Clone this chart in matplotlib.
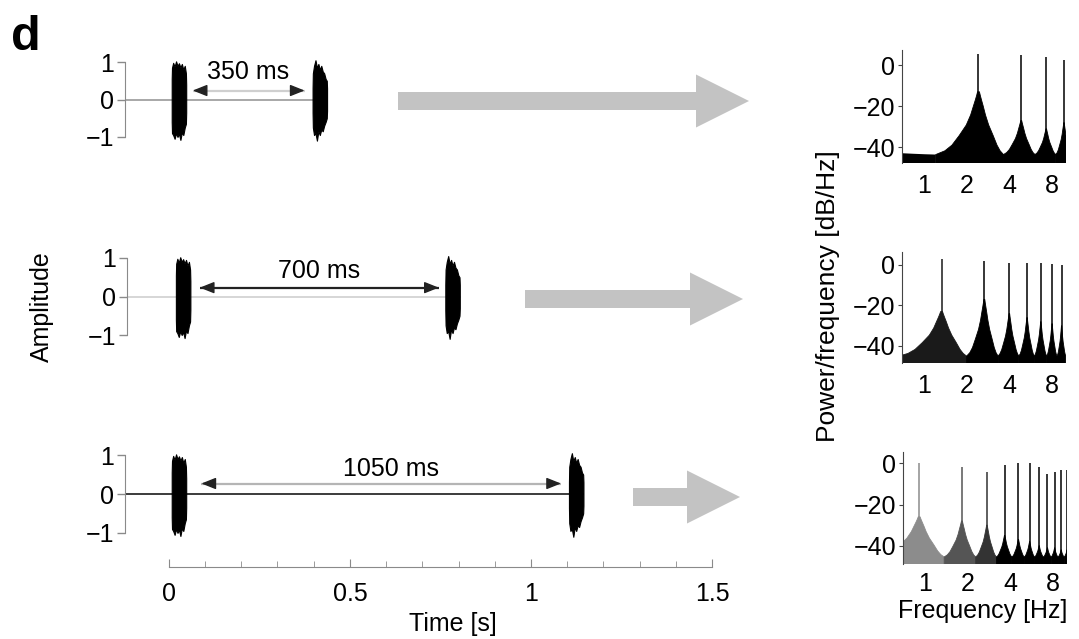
import numpy as np
import matplotlib
matplotlib.use("Agg")
import matplotlib.pyplot as plt
from matplotlib.patches import Polygon

plt.rcParams['font.family'] = ['Liberation Sans', 'DejaVu Sans']
plt.rcParams['font.size'] = 18

# ---------------- data ----------------
gap_labels = ["350 ms", "700 ms", "1050 ms"]
burst_onsets = [[0.008, 0.397], [0.014, 0.758], [0.008, 1.105]]
burst_dur = 0.040
burst_phase = [0.0, 0.02, 0.1, 0.2, 0.3, 0.4, 0.5, 0.6, 0.7, 0.8, 0.9, 0.98, 1.0]
env_upper_a = [0.55, 0.85, 0.98, 0.88, 1.02, 0.90, 0.97, 0.86, 0.95, 0.80, 0.90, 0.70, 0.40]
env_lower_a = [-0.60, -0.90, -0.95, -1.05, -0.90, -1.00, -0.92, -1.08, -0.88, -0.95, -0.75, -0.65, -0.35]
env_upper_b = [0.30, 0.70, 0.90, 1.05, 0.85, 0.95, 0.80, 0.90, 0.75, 0.70, 0.55, 0.50, 0.30]
env_lower_b = [-0.35, -0.75, -0.95, -0.90, -1.10, -0.85, -0.95, -0.80, -0.85, -0.70, -0.60, -0.50, -0.30]
gap_arrow_span = [(0.066, 0.375), (0.080, 0.740), (0.090, 1.083)]
gap_arrow_amp = [0.24, 0.23, 0.27]
gap_label_pos = [(0.218, 0.73), (0.410, 0.66), (0.614, 0.65)]
baseline_colors = ['#9a9a9a', '#cfcfcf', '#1a1a1a']
shaft_colors = ['#cfcfcf', '#222222', '#b5b5b5']

time_ticks = [0, 0.5, 1, 1.5]
time_ticklabels = ['0', '0.5', '1', '1.5']
amp_ticks = [-1, 0, 1]
amp_ticklabels = ['\u22121', '0', '1']

freq_ticks = [1, 2, 4, 8]
freq_ticklabels = ['1', '2', '4', '8']
db_ticks = [-40, -20, 0]
db_ticklabels = ['\u221240', '\u221220', '0']

spec_peaks = [
    [2.42, 4.84, 7.26, 9.68],
    [1.33, 2.66, 3.99, 5.32, 6.65, 7.98, 9.31],
    [0.91, 1.82, 2.73, 3.64, 4.55, 5.46, 6.37, 7.28, 8.19, 9.10, 10.01],
]
spec_peak_db = [
    [5.3, 4.9, 3.7, 2.4],
    [3.0, 2.0, 1.0, 1.0, 1.0, 0.5, 0.0],
    [0.0, -2.0, -4.0, -1.0, 0.0, 0.0, -2.0, -5.0, -4.0, -3.0, -3.0],
]
spec_base_db = [
    [-13, -27, -31, -28],
    [-23, -17, -24, -26, -28, -29, -30],
    [-26, -28, -30, -35, -37, -38, -40, -41, -41, -42, -42],
]
spec_dc_db = [-41, -43, -44]
spec_floor_db = [-43.5, -45.0, -45.5]
spec_colors = [
    ['black'] * 4,
    ['#1a1a1a'] + ['black'] * 6,
    ['#8c8c8c', '#555555', '#333333'] + ['black'] * 8,
]
# cusp profile: offset (fraction of harmonic spacing) -> relative rise
cusp_x = [0.5, 0.42, 0.35, 0.27, 0.18, 0.12, 0.08, 0.05, 0.03, 0.015]
cusp_v = [0.0, 0.06, 0.15, 0.30, 0.47, 0.63, 0.77, 0.87, 0.94, 1.0]

# ---------------- figure ----------------
W, H = 1079, 639
fig = plt.figure(figsize=(W / 100, H / 100), dpi=100)


def px_axes(x0, y0, x1, y1, **kw):
    return fig.add_axes([x0 / W, 1 - y1 / H, (x1 - x0) / W, (y1 - y0) / H], **kw)


# overlay for block arrows and figure labels
ov = px_axes(0, 0, W, H)
ov.set_xlim(0, W)
ov.set_ylim(H, 0)
ov.axis('off')
ov.patch.set_alpha(0)
block_arrows = [(398, 749, 101), (525, 743, 299), (633, 740, 497)]
for x0, x1, yc in block_arrows:
    hl, hw, sw = 53, 26.5, 9
    pts = [(x0, yc - sw), (x1 - hl, yc - sw), (x1 - hl, yc - hw), (x1, yc),
           (x1 - hl, yc + hw), (x1 - hl, yc + sw), (x0, yc + sw)]
    ov.add_patch(Polygon(pts, closed=True, facecolor='#c3c3c3', edgecolor='none'))

ov.text(11, 50, 'd', fontsize=35, fontweight='bold', ha='left', va='baseline')
ov.text(42, 307, 'Amplitude', rotation=90, ha='center', va='center')
ov.text(453, 624, 'Time [s]', ha='center', va='center')
ov.text(828, 296, 'Power/frequency [dB/Hz]', rotation=90, ha='center', va='center',
        fontsize=19)
ov.text(983, 611, 'Frequency [Hz]', ha='center', va='center')

# ---------------- time-domain panels ----------------
left_boxes = [(125, 49, 712, 150), (127, 244.5, 714, 348.5), (125, 441.5, 712, 546.5)]
t_left = -0.121
gray = '#8a8a8a'
for i, (x0, y0, x1, y1) in enumerate(left_boxes):
    ax = px_axes(x0, y0, x1, y1)
    ax.patch.set_alpha(0)
    ax.set_xlim(t_left, 1.5)
    ax.set_ylim(-1.35, 1.35)
    on = burst_onsets[i]
    t_end = on[-1] + burst_dur
    ax.plot([t_left, t_end], [0, 0], color=baseline_colors[i], lw=1.2, zorder=1)
    for j, o in enumerate(on):
        t = o + np.array(burst_phase) * burst_dur
        up = env_upper_a if j == 0 else env_upper_b
        lo = env_lower_a if j == 0 else env_lower_b
        ax.fill_between(t, lo, up, color='black', lw=0.8, zorder=3)
    # gap arrow
    a0, a1 = gap_arrow_span[i]
    ya = gap_arrow_amp[i]
    ax.plot([a0, a1], [ya, ya], color=shaft_colors[i], lw=1.6, zorder=2,
            solid_capstyle='butt')
    hlen = 0.032
    for tip, tail in [(a0, a0 + hlen), (a1, a1 - hlen)]:
        ax.annotate('', xy=(tip, ya), xytext=(tail, ya),
                    arrowprops=dict(arrowstyle='-|>,head_length=0.55,head_width=0.22',
                                    color='#222222', lw=1.0, shrinkA=0, shrinkB=0,
                                    mutation_scale=16))
    lx, ly = gap_label_pos[i]
    ax.text(lx, ly, gap_labels[i], ha='center', va='center')

    for s in ['top', 'right']:
        ax.spines[s].set_visible(False)
    ax.spines['left'].set_bounds(-1, 1)
    ax.spines['left'].set_color(gray)
    ax.set_yticks(amp_ticks)
    ax.set_yticklabels(amp_ticklabels)
    ax.tick_params(axis='y', direction='out', length=6, width=1, color=gray, pad=2)
    if i < 2:
        ax.spines['bottom'].set_visible(False)
        ax.set_xticks([])
    else:
        ax.spines['bottom'].set_position(('data', -1.87))
        ax.spines['bottom'].set_bounds(0, 1.5)
        ax.spines['bottom'].set_color(gray)
        ax.set_xticks(time_ticks)
        ax.set_xticklabels(time_ticklabels)
        ax.set_xticks(np.arange(0, 1.51, 0.1), minor=True)
        ax.tick_params(axis='x', which='major', direction='in', length=6, color=gray, pad=11)
        ax.tick_params(axis='x', which='minor', direction='in', length=4, color=gray)

# ---------------- spectrum panels ----------------
spec_boxes = [(902, 50, 1066, 163), (902, 252, 1066, 363), (903, 452, 1067, 564)]
spec_ylims = [(-47.6, 7.3), (-48.4, 6.4), (-48.9, 5.5)]
fx0, fx1 = 0.70, 10.0
for i, (x0, y0, x1, y1) in enumerate(spec_boxes):
    ax = px_axes(x0, y0, x1, y1)
    ax.patch.set_alpha(0)
    ax.set_xscale('log')
    ax.set_xlim(fx0, fx1)
    ylo, yhi = spec_ylims[i]
    ax.set_ylim(ylo, yhi)
    peaks = spec_peaks[i]
    spacing = peaks[0]
    floor = spec_floor_db[i]
    # DC cusp (right half only)
    xs, ys = [], []
    for xf, v in zip(cusp_x[::-1], cusp_v[::-1]):
        xs.append(xf * spacing)
        ys.append(floor + (spec_dc_db[i] - floor) * v)
    keep = [k for k, x in enumerate(xs) if x > fx0 * 0.9]
    xs = [fx0 * 0.9] + [xs[k] for k in keep]
    ys = [spec_dc_db[i]] + [ys[k] for k in keep]
    poly = list(zip(xs, ys)) + [(xs[-1], ylo - 5), (xs[0], ylo - 5)]
    ax.add_patch(Polygon(poly, closed=True, facecolor=spec_colors[i][0], edgecolor='none'))
    for k, f0 in enumerate(peaks):
        base = spec_base_db[i][k]
        c = spec_colors[i][k]
        left = [(f0 - xf * spacing, floor + (base - floor) * v) for xf, v in zip(cusp_x, cusp_v)]
        right = [(f0 + xf * spacing, floor + (base - floor) * v) for xf, v in zip(cusp_x[::-1], cusp_v[::-1])]
        pts = left + right
        pts = pts + [(pts[-1][0], ylo - 5), (pts[0][0], ylo - 5)]
        ax.add_patch(Polygon(pts, closed=True, facecolor=c, edgecolor=c, lw=0.6))
        ax.plot([f0, f0], [ylo, spec_peak_db[i][k]], color=c, lw=1.1, solid_capstyle='butt')
    for s in ['top', 'right', 'bottom']:
        ax.spines[s].set_visible(False)
    ax.spines['left'].set_color('#444444')
    ax.set_xticks(freq_ticks)
    ax.set_xticklabels(freq_ticklabels)
    ax.minorticks_off()
    ax.set_yticks(db_ticks)
    ax.set_yticklabels(db_ticklabels)
    ax.tick_params(axis='x', length=0, pad=8 if i < 2 else 6)
    ax.tick_params(axis='y', direction='out', length=3, color='#444444', pad=2)

fig.savefig('out.png', dpi=100)
